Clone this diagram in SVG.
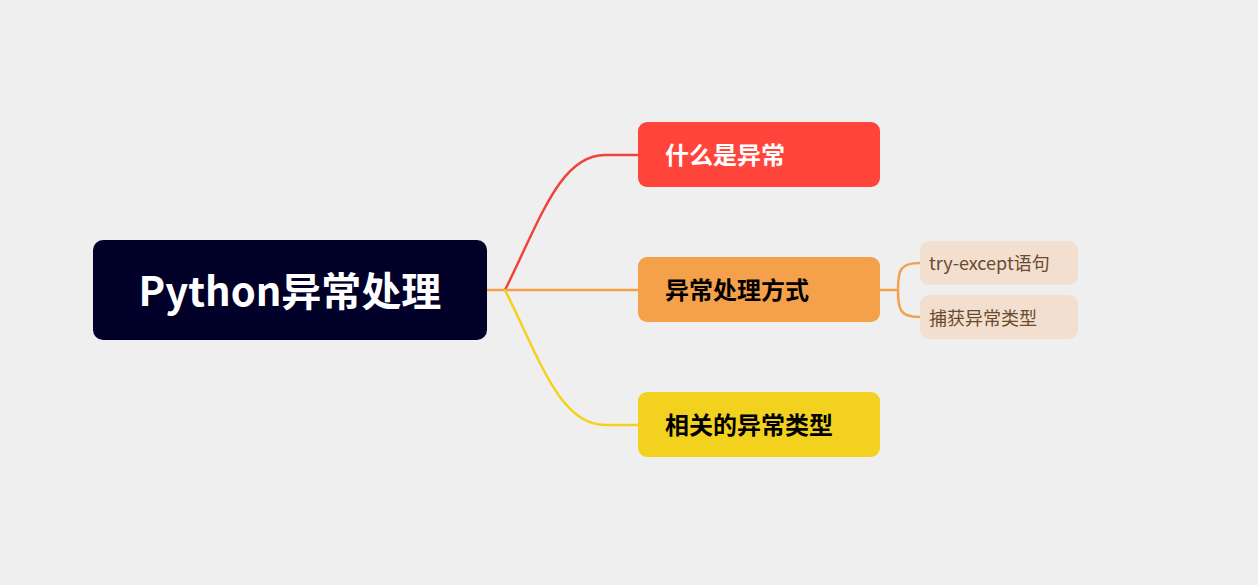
<svg xmlns="http://www.w3.org/2000/svg" width="1258" height="585" viewBox="0 0 1258 585">
<style>
.b{font-family:"Noto Sans CJK SC","Noto Sans",sans-serif;font-weight:bold;font-size:24px}
.s{font-family:"Noto Sans CJK SC","Noto Sans",sans-serif;font-size:18px;fill:#6B4A2E}
.c{fill:none;stroke-width:2.5}
</style>
<rect width="1258" height="585" fill="#EFEFEF"/>
<g id="connectors">
<path class="c" stroke="#F0433A" d="M505 290 C540 220 560 155 605 155 L638 155"/>
<path class="c" stroke="#F5A04A" d="M487 290 L638 290"/>
<path class="c" stroke="#F2D21F" d="M505 290 C540 360 560 425 605 425 L638 425"/>
<path class="c" stroke="#F5A04A" d="M880 290 L898 290 M898 290 C898 270 900 263 920 263 M898 290 C898 310 900 317 920 317"/>
</g>
<g id="root"><rect x="93" y="240" width="394" height="100" rx="10" fill="#000028"/>
<text x="290" y="306" text-anchor="middle" font-family="'Noto Sans CJK SC','Noto Sans',sans-serif" font-weight="bold" font-size="40" fill="#fff">Python异常处理</text></g>
<g id="n1"><rect x="638" y="122" width="242" height="65" rx="9" fill="#FF443B"/><text class="b" x="665" y="164" fill="#fff">什么是异常</text></g>
<g id="n2"><rect x="638" y="257" width="242" height="65" rx="9" fill="#F5A04A"/><text class="b" x="665" y="299" fill="#000">异常处理方式</text></g>
<g id="n3"><rect x="638" y="392" width="242" height="65" rx="9" fill="#F2D21F"/><text class="b" x="665" y="434" fill="#000">相关的异常类型</text></g>
<g id="s1"><rect x="920" y="241" width="158" height="44" rx="9" fill="#F2DFCF"/><text class="s" x="929" y="270">try-except语句</text></g>
<g id="s2"><rect x="920" y="295" width="158" height="44" rx="9" fill="#F2DFCF"/><text class="s" x="929" y="325">捕获异常类型</text></g>
</svg>
